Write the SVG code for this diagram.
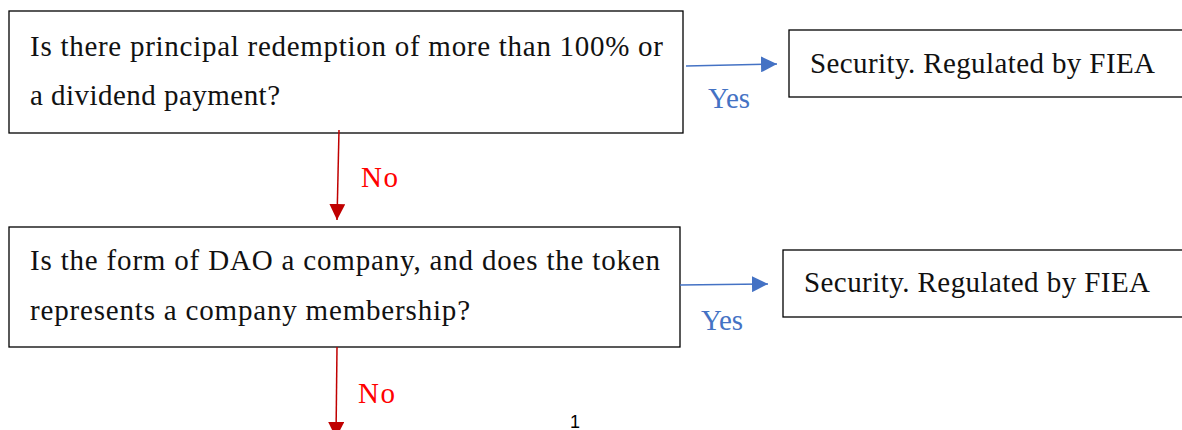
<svg xmlns="http://www.w3.org/2000/svg" width="1182" height="430" viewBox="0 0 1182 430">
<defs>
<marker id="ab" viewBox="0 0 10 10" refX="10" refY="5" markerWidth="16" markerHeight="16" markerUnits="userSpaceOnUse" orient="auto"><path d="M0,0 L10,5 L0,10 z" fill="#4472C4"/></marker>
<marker id="ar" viewBox="0 0 10 10" refX="10" refY="5" markerWidth="16" markerHeight="16" markerUnits="userSpaceOnUse" orient="auto"><path d="M0,0 L10,5 L0,10 z" fill="#C00000"/></marker>
</defs>
<style>
.box{fill:#fff;stroke:#000;stroke-width:1.3}
.t{font-family:"Liberation Serif","DejaVu Serif",serif;font-size:29px;fill:#111}
.yes{font-family:"Liberation Serif",serif;font-size:29px;fill:#4472C4}
.no{font-family:"Liberation Serif",serif;font-size:29px;fill:#FF0000}
.cb{stroke:#4472C4;stroke-width:1.5;fill:none}
.cr{stroke:#C00000;stroke-width:1.5;fill:none}
</style>
<rect width="1182" height="430" fill="#fff"/>
<g id="q1"><rect class="box" x="9" y="11" width="674" height="122"/>
<text class="t" x="30" y="56" textLength="633" lengthAdjust="spacing">Is there principal redemption of more than 100% or</text>
<text class="t" x="30" y="105" textLength="250" lengthAdjust="spacing">a dividend payment?</text></g>
<g id="r1"><rect class="box" x="789" y="30" width="400" height="67"/>
<text class="t" x="810" y="73" textLength="345" lengthAdjust="spacing">Security. Regulated by FIEA</text></g>
<g id="q2"><rect class="box" x="9" y="227" width="671" height="120"/>
<text class="t" x="30" y="270" textLength="630" lengthAdjust="spacing">Is the form of DAO a company, and does the token</text>
<text class="t" x="30" y="320" textLength="440" lengthAdjust="spacing">represents a company membership?</text></g>
<g id="r2"><rect class="box" x="783" y="250" width="406" height="67"/>
<text class="t" x="804" y="292" textLength="346" lengthAdjust="spacing">Security. Regulated by FIEA</text></g>
<g id="connectors">
<line class="cb" x1="686" y1="66" x2="777" y2="64" marker-end="url(#ab)"/>
<text class="yes" x="708" y="108" textLength="42" lengthAdjust="spacing">Yes</text>
<line class="cr" x1="339" y1="130" x2="337" y2="220" marker-end="url(#ar)"/>
<text class="no" x="361" y="187" textLength="37" lengthAdjust="spacing">No</text>
<line class="cb" x1="680" y1="285" x2="768" y2="284" marker-end="url(#ab)"/>
<text class="yes" x="701" y="330" textLength="42" lengthAdjust="spacing">Yes</text>
<line class="cr" x1="337" y1="347" x2="336" y2="438" marker-end="url(#ar)"/>
<text class="no" x="358" y="403" textLength="37" lengthAdjust="spacing">No</text>
</g>
<text x="570" y="428" font-family="Liberation Sans,sans-serif" font-size="18" fill="#000">1</text>
</svg>
